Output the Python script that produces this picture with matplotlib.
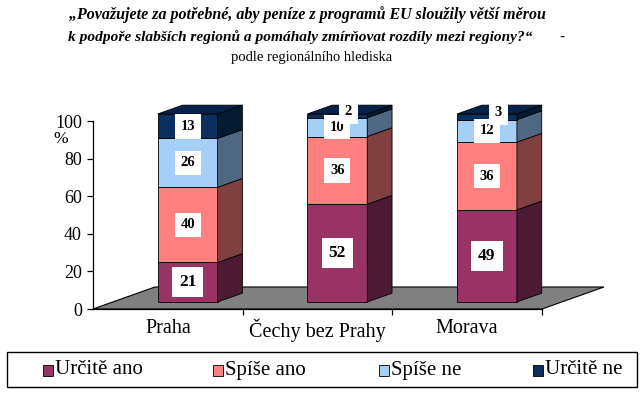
import matplotlib
matplotlib.use('Agg')
import matplotlib.pyplot as plt
from matplotlib.patches import Polygon, Rectangle

plt.rcParams['font.family'] = ['Liberation Serif', 'DejaVu Serif']

# data
regions = ['Praha', 'Čechy bez Prahy', 'Morava']
series = ['Určitě ano', 'Spíše ano', 'Spíše ne', 'Určitě ne']
urcite_ano = [21, 52, 49]
spise_ano = [40, 36, 36]
spise_ne = [26, 10, 12]
urcite_ne = [13, 2, 3]
values = [urcite_ano, spise_ano, spise_ne, urcite_ne]

front_col = ['#993366', '#FF8080', '#A6CFF7', '#0B2F5E']
side_col = ['#4C1A33', '#804040', '#4E6883', '#051A33']
top_col = ['#7A2952', '#CC6666', '#85A6C6', '#06214A']

W, H = 640, 400
fig = plt.figure(figsize=(W / 100, H / 100), dpi=100)
ax = fig.add_axes([93 / W, 91 / H, 449 / W, 188 / H])
ax.set_xlim(0, 3)
ax.set_ylim(0, 100)

# 3D depth of the floor (data units) and where the bars sit in it
floor_dx, floor_dy = 0.414, 11.7
f0, f1 = 0.32, 0.72
bar_w = 0.4

floor = Polygon([(0, 0), (3, 0), (3 + floor_dx, floor_dy), (floor_dx, floor_dy)],
                closed=True, facecolor='#808080', edgecolor='black', lw=0.8,
                clip_on=False, zorder=1)
ax.add_patch(floor)

sx, sy = f0 * floor_dx, f0 * floor_dy
ddx, ddy = (f1 - f0) * floor_dx, (f1 - f0) * floor_dy

for i in range(len(regions)):
    x0 = i + 0.5 - bar_w / 2 + sx
    x1 = x0 + bar_w
    bottom = 0
    for j in range(len(series)):
        v = values[j][i]
        b, t = bottom + sy, bottom + v + sy
        ax.add_patch(Polygon([(x0, b), (x1, b), (x1, t), (x0, t)], closed=True,
                             facecolor=front_col[j], edgecolor='black', lw=0.6,
                             clip_on=False, zorder=3))
        ax.add_patch(Polygon([(x1, b), (x1 + ddx, b + ddy), (x1 + ddx, t + ddy), (x1, t)],
                             closed=True, facecolor=side_col[j], edgecolor='black',
                             lw=0.6, clip_on=False, zorder=3))
        if j == len(series) - 1:
            ax.add_patch(Polygon([(x0, t), (x0 + ddx, t + ddy), (x1 + ddx, t + ddy), (x1, t)],
                                 closed=True, facecolor=top_col[j], edgecolor='black',
                                 lw=0.6, clip_on=False, zorder=3))
        # value label
        xc, yc = (x0 + x1) / 2, bottom + v / 2 + sy
        fs = 12.5 if j == 0 else 10.5
        off = (0, 0)
        if v < 5:
            off = (8, 3)
        ax.annotate(str(v), (xc, yc), xytext=off, textcoords='offset points',
                    ha='center', va='center', fontsize=fs, fontweight='bold',
                    bbox=dict(boxstyle='square,pad=0.4', fc='white', ec='none'),
                    zorder=5, annotation_clip=False)
        bottom += v

for s in ['top', 'right']:
    ax.spines[s].set_visible(False)
ax.spines['left'].set_linewidth(0.9)
ax.spines['bottom'].set_linewidth(0.9)
ax.spines['left'].set_zorder(2)

ax.set_yticks(range(0, 101, 20))
ax.tick_params(axis='y', direction='out', length=4, width=0.9, pad=4, labelsize=13)
ax.set_xticks([1, 2, 3])
ax.set_xticklabels([])
ax.tick_params(axis='x', which='major', direction='out', length=4, width=0.9)
ax.set_xticks([0.5, 1.5, 2.5], minor=True)
ax.set_xticklabels(regions, minor=True)
ax.tick_params(axis='x', which='minor', length=0, pad=7, labelsize=14.5)
ax.patch.set_visible(False)

fig.text(61 / W, 1 - 139 / H, '%', ha='center', va='center', fontsize=12.5)

# title
fig.text(307 / W, 1 - 15 / H,
         '„Považujete za potřebné, aby peníze z programů EU sloužily větší měrou',
         ha='center', va='center', fontsize=11.5, fontweight='bold', fontstyle='italic')
fig.text(300 / W, 1 - 37 / H,
         'k podpoře slabších regionů a pomáhaly zmírňovat rozdíly mezi regiony?“',
         ha='center', va='center', fontsize=11.1, fontweight='bold', fontstyle='italic')
fig.text(562 / W, 1 - 37 / H, '-', ha='center', va='center', fontsize=11)
fig.text(312 / W, 1 - 57 / H, 'podle regionálního hlediska',
         ha='center', va='center', fontsize=10.5)

# legend, laid out by hand like the original
fig.add_artist(Rectangle((7 / W, 1 - 387 / H), 630 / W, 35 / H, transform=fig.transFigure,
                         facecolor='white', edgecolor='black', lw=1))
leg_x = [43, 213, 379, 533]
for j, name in enumerate(series):
    fig.add_artist(Rectangle((leg_x[j] / W, 1 - 376 / H), 10 / W, 11 / H,
                             transform=fig.transFigure, facecolor=front_col[j],
                             edgecolor='black', lw=0.6))
    fig.text((leg_x[j] + 12) / W, 1 - 370 / H, name, ha='left', va='center',
             fontsize=15)

fig.savefig('out.png', dpi=100)
